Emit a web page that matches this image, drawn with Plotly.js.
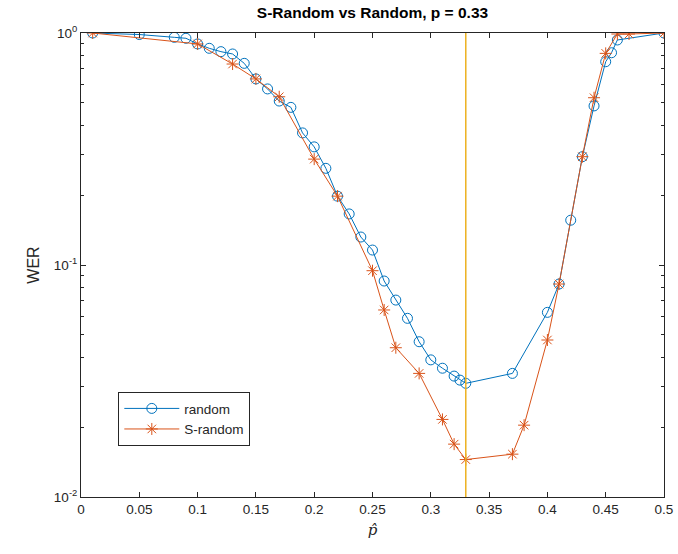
<!DOCTYPE html>
<html>
<head>
<meta charset="utf-8">
<script src="https://cdn.plot.ly/plotly-3.0.1.min.js"></script>
<style>html,body{margin:0;padding:0;background:#fff;}#chart{width:678px;height:554px;}</style>
</head>
<body>
<div id="chart"></div>
<script>
const randomX = [0.01, 0.05, 0.08, 0.09, 0.10, 0.11, 0.12, 0.13, 0.14, 0.15, 0.16, 0.17, 0.18, 0.19, 0.20, 0.21, 0.22, 0.23, 0.24, 0.25, 0.26, 0.27, 0.28, 0.29, 0.30, 0.31, 0.32, 0.325, 0.33, 0.37, 0.40, 0.41, 0.42, 0.43, 0.44, 0.45, 0.455, 0.46, 0.50];
const randomY = [1.0, 0.985, 0.958, 0.949, 0.897, 0.859, 0.831, 0.812, 0.74, 0.634, 0.574, 0.509, 0.478, 0.371, 0.323, 0.261, 0.198, 0.166, 0.132, 0.116, 0.0853, 0.0706, 0.0589, 0.0467, 0.039, 0.0359, 0.0332, 0.0319, 0.0309, 0.0341, 0.0625, 0.0828, 0.156, 0.293, 0.485, 0.752, 0.822, 0.933, 1.0];
const srandomX = [0.01, 0.10, 0.13, 0.15, 0.17, 0.20, 0.22, 0.25, 0.26, 0.27, 0.29, 0.31, 0.32, 0.33, 0.37, 0.38, 0.40, 0.41, 0.43, 0.44, 0.45, 0.46, 0.47, 0.50];
const srandomY = [1.0, 0.897, 0.735, 0.634, 0.531, 0.286, 0.198, 0.0945, 0.064, 0.044, 0.0341, 0.0216, 0.0169, 0.0145, 0.0153, 0.0204, 0.0475, 0.0828, 0.293, 0.526, 0.817, 0.99, 0.99, 1.0];
const pTrue = 0.33;
const xTicks = [0, 0.05, 0.1, 0.15, 0.2, 0.25, 0.3, 0.35, 0.4, 0.45, 0.5];
const xTickText = ['0', '0.05', '0.1', '0.15', '0.2', '0.25', '0.3', '0.35', '0.4', '0.45', '0.5'];
const yTicks = [0.01, 0.1, 1];
const yTickText = ['10<sup>-2</sup>', '10<sup>-1</sup>', '10<sup>0</sup>'];
const yMinor = [0.02,0.03,0.04,0.05,0.06,0.07,0.08,0.09,0.2,0.3,0.4,0.5,0.6,0.7,0.8,0.9];

const blue = '#0072BD', orange = '#D95319', yellow = '#EDB120';
const traces = [
  {x: randomX, y: randomY, name: 'random', type: 'scatter', mode: 'lines+markers',
   line: {color: blue, width: 1}, marker: {symbol: 'circle-open', size: 10, color: blue, line: {width: 1}}},
  {x: srandomX, y: srandomY, name: 'S-random', type: 'scatter', mode: 'lines+markers',
   line: {color: orange, width: 1}, marker: {symbol: 'asterisk-open', size: 10, color: orange, line: {width: 1, color: orange}}},
  {x: [pTrue, pTrue], y: [0.01, 1], type: 'scatter', mode: 'lines', showlegend: false,
   line: {color: yellow, width: 1.5}, hoverinfo: 'skip'}
];
const axisCommon = {showline: true, linecolor: '#262626', linewidth: 1, mirror: 'ticks', ticks: 'inside',
  ticklen: 5, tickcolor: '#262626', showgrid: false, zeroline: false,
  tickfont: {family: 'Liberation Sans, Arial, sans-serif', size: 13.5, color: '#262626'}};
const layout = {
  width: 678, height: 554,
  margin: {l: 80.5, r: 13.5, t: 33, b: 57},
  paper_bgcolor: '#fff', plot_bgcolor: '#fff',
  title: {text: '<b>S-Random vs Random, p = 0.33</b>', x: 0.5, xref: 'paper', y: 1, yref: 'container', yanchor: 'top', pad: {t: 7},
    font: {family: 'Liberation Sans, Arial, sans-serif', size: 15.5, color: '#000'}},
  xaxis: Object.assign({}, axisCommon, {range: [0, 0.5], tickmode: 'array', tickvals: xTicks, ticktext: xTickText,
    title: {text: '<i>p̂</i>', standoff: 8, font: {family: 'DejaVu Serif, serif', size: 15, color: '#262626'}}}),
  yaxis: Object.assign({}, axisCommon, {type: 'log', range: [-2, 0], tickmode: 'array', tickvals: yTicks, ticktext: yTickText,
    minor: {tickmode: 'array', tickvals: yMinor, ticks: 'inside', ticklen: 3, tickcolor: '#262626', showgrid: false},
    title: {text: 'WER', standoff: 10, font: {family: 'Liberation Sans, Arial, sans-serif', size: 16, color: '#262626'}}}),
  legend: {x: 0.064, y: 0.226, xanchor: 'left', yanchor: 'top', bgcolor: '#fff', bordercolor: '#262626', borderwidth: 1,
    itemwidth: 55,
    font: {family: 'Liberation Sans, Arial, sans-serif', size: 13.5, color: '#262626'}, tracegroupgap: 0},
  showlegend: true
};
Plotly.newPlot('chart', traces, layout, {displayModeBar: false, staticPlot: true});
</script>
</body>
</html>
